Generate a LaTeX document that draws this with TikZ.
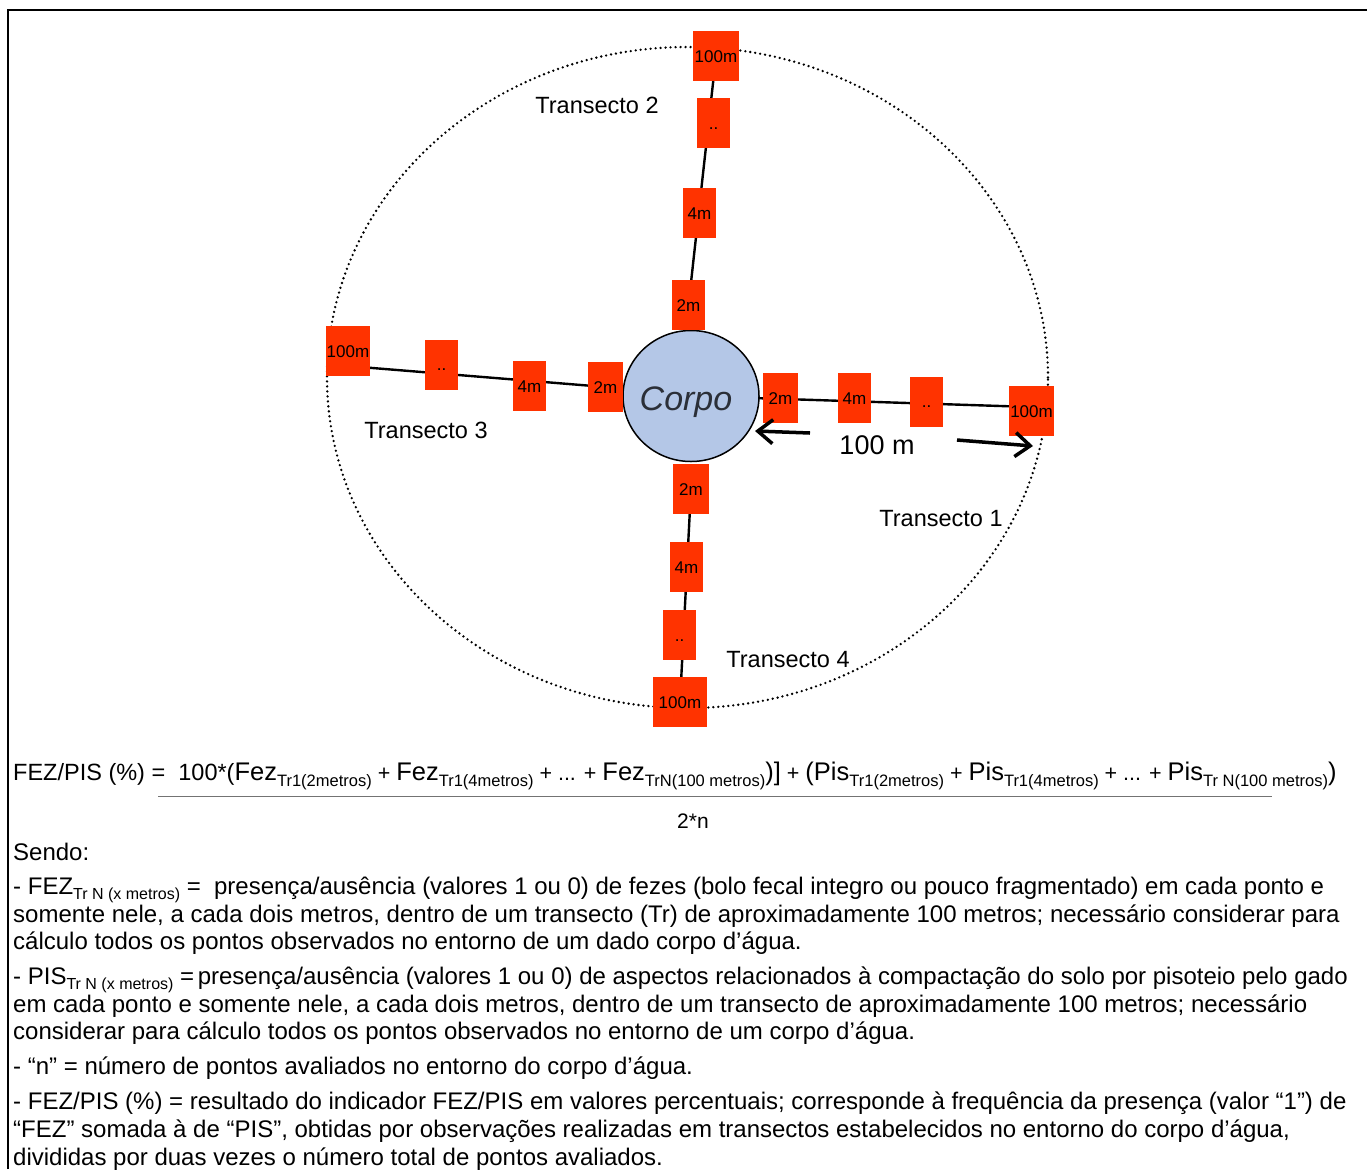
\documentclass[tikz,border=0pt]{standalone}
\usepackage{fontspec}
\setmainfont{Liberation Sans}
\usetikzlibrary{arrows.meta,backgrounds,shapes.geometric}
\definecolor{sqred}{HTML}{FF3300}
\definecolor{corpofill}{HTML}{B4C7E7}
\definecolor{corpotext}{HTML}{2B2F38}
\newcommand\sbx[1]{\raisebox{-0.28em}{\fontsize{16.5bp}{16bp}\selectfont #1}}
\newcommand\bigw[1]{{\fontsize{25.5bp}{26bp}\selectfont #1}}
\newcommand\smw[1]{{\fontsize{21.5bp}{22bp}\selectfont #1}}
\newcommand\bsub[1]{\raisebox{-0.22em}{\fontsize{16bp}{16bp}\selectfont #1}}
\begin{document}
\begin{tikzpicture}[x=1bp,y=-1bp,
  sqbox/.style={fill=sqred, inner sep=0pt, minimum height=50bp, minimum width=33bp,
    text height=12bp, text depth=0bp, font=\fontsize{17bp}{17bp}\selectfont},
  wbox/.style={sqbox, minimum width=#1},
  tlabel/.style={font=\fontsize{23.5bp}{24bp}\selectfont, inner sep=0pt},
  bodyline/.style={anchor=base west, inner sep=0pt, font=\fontsize{24bp}{24bp}\selectfont},
  seg/.style={line width=2.4bp, black},
  bigarrow/.style={line width=3.5bp, -{Straight Barb[length=15bp,width=24bp]}}
]
\useasboundingbox (0,0) rectangle (1367,1169);
% frame
\draw[line width=2.5bp] (8,1169) -- (8,10) -- (1367,10);

% dotted boundary
\draw[line width=2.6bp, line cap=round, dash pattern=on 0bp off 5bp] (687.5,377.5) ellipse [x radius=360.5bp, y radius=330.5bp];

% central body
\node[draw=black, line width=1.5bp, fill=corpofill, ellipse, minimum width=136bp, minimum height=131bp, inner sep=0pt] (corpo) at (691,396) {};
\node[font=\fontsize{34bp}{34bp}\selectfont\itshape, text=corpotext, inner sep=0pt] (corpolabel) at (686,402) {Corpo};

% top transect
\node[wbox=46bp] (t100) at (716,56) {100m};
\node[sqbox] (tdd) at (713.5,123) {..};
\node[sqbox] (t4) at (699.5,213) {4m};
\node[sqbox] (t2) at (688.5,305) {2m};
% left transect
\node[wbox=44bp] (l100) at (348,351) {100m};
\node[sqbox] (ldd) at (441.5,364.5) {..};
\node[sqbox] (l4) at (529.5,386) {4m};
\node[wbox=35bp] (l2) at (605.5,387) {2m};
% right transect
\node[wbox=35bp] (r2) at (780.5,398) {2m};
\node[sqbox] (r4) at (854.5,398) {4m};
\node[sqbox] (rdd) at (926.5,401.5) {..};
\node[wbox=45bp] (r100) at (1031.5,411) {100m};
% bottom transect
\node[wbox=36bp] (b2) at (691,489) {2m};
\node[sqbox] (b4) at (686.5,567) {4m};
\node[sqbox] (bdd) at (679.5,635) {..};
\node[wbox=54bp] (b100) at (680,702) {100m};

\begin{scope}[on background layer]
\draw[seg] (t100.center) -- (t2.center);
\draw[seg] ([yshift=-15bp]l100.center) -- (l2.center);
\draw[seg] (corpo.center) -- ([yshift=4bp]r100.center);
\draw[seg] (b2.center) -- (b100.center);
\end{scope}

% transect labels
\node[tlabel] (lab2) at (597,105) {Transecto 2};
\node[tlabel] (lab3) at (426,430) {Transecto 3};
\node[tlabel] (lab1) at (941,519) {Transecto 1};
\node[tlabel] (lab4) at (788,660) {Transecto 4};

% distance arrows
\coordinate (a1s) at (810,433);
\coordinate (a1e) at (755,431);
\coordinate (a2s) at (957,440);
\coordinate (a2e) at (1033,446);
\draw[bigarrow] (a1s) -- (a1e);
\draw[bigarrow] (a2s) -- (a2e);
\node[font=\fontsize{27bp}{27bp}\selectfont, inner sep=0pt] (dist) at (877,445) {100 m};

% formula
\node[anchor=base west, inner sep=0pt, font=\fontsize{23.5bp}{24bp}\selectfont] (formula) at (13,780)
 {FEZ/PIS (\%) =\ \ 100*(\bigw{Fez}\sbx{Tr1(2metros)}\smw{ + }\bigw{Fez}\sbx{Tr1(4metros)}\smw{ + ... + }\bigw{Fez}\sbx{TrN(100 metros)}\bigw{)]}\smw{ + }\bigw{(Pis}\sbx{Tr1(2metros)}\smw{ + }\bigw{Pis}\sbx{Tr1(4metros)}\smw{ + ... + }\bigw{Pis}\sbx{Tr N(100 metros)}\bigw{)}};
\draw[line width=0.8bp, black!55] (158,796) -- (1272,796);
\node[font=\fontsize{21bp}{21bp}\selectfont, inner sep=0pt] (den) at (693,821) {2*n};

% explanatory text
\node[bodyline] (s0) at (13,860) {Sendo:};
\node[bodyline] (s1) at (13,894) {- FEZ\bsub{Tr N (x metros)} =\ \ presença/ausência (valores 1 ou 0) de fezes (bolo fecal integro ou pouco fragmentado) em cada ponto e};
\node[bodyline] (s2) at (13,922) {somente nele, a cada dois metros, dentro de um transecto (Tr) de aproximadamente 100 metros; necessário considerar para};
\node[bodyline] (s3) at (13,949) {cálculo todos os pontos observados no entorno de um dado corpo d’água.};
\node[bodyline] (s4) at (13,984) {- PIS\bsub{Tr N (x metros)} =\hspace{0.15em}presença/ausência (valores 1 ou 0) de aspectos relacionados à compactação do solo por pisoteio pelo gado};
\node[bodyline] (s5) at (13,1012) {em cada ponto e somente nele, a cada dois metros, dentro de um transecto de aproximadamente 100 metros; necessário};
\node[bodyline] (s6) at (13,1039) {considerar para cálculo todos os pontos observados no entorno de um corpo d’água.};
\node[bodyline] (s7) at (13,1074) {- “n” = número de pontos avaliados no entorno do corpo d’água.};
\node[bodyline] (s8) at (13,1109) {- FEZ/PIS (\%) = resultado do indicador FEZ/PIS em valores percentuais; corresponde à frequência da presença (valor “1”) de};
\node[bodyline] (s9) at (13,1137) {“FEZ” somada à de “PIS”, obtidas por observações realizadas em transectos estabelecidos no entorno do corpo d’água,};
\node[bodyline] (s10) at (13,1165) {divididas por duas vezes o número total de pontos avaliados.};
\end{tikzpicture}
\end{document}
